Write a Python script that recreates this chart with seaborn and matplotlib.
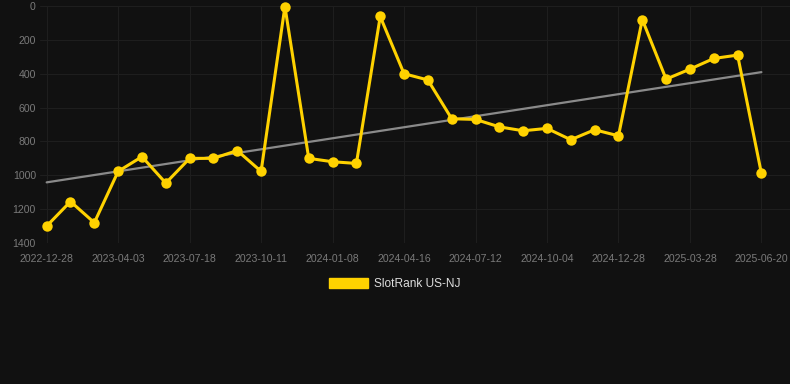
import matplotlib
matplotlib.use("Agg")
import matplotlib.pyplot as plt
from matplotlib.patches import Patch
import numpy as np
import pandas as pd
import seaborn as sns

# rank values (lower = better, axis is inverted)
rank = [1300, 1155, 1280, 977, 890, 1046, 900, 900, 854, 977,
        3, 900, 920, 930, 62, 400, 437, 666, 670, 714,
        737, 723, 790, 731, 767, 80, 432, 373, 310, 290, 989]
tick_labels = ["2022-12-28", "2023-04-03", "2023-07-18", "2023-10-11",
               "2024-01-08", "2024-04-16", "2024-07-12", "2024-10-04",
               "2024-12-28", "2025-03-28", "2025-06-20"]
y_ticks = [0, 200, 400, 600, 800, 1000, 1200, 1400]
series_name = "SlotRank US-NJ"

bg = "#111111"
yellow = "#FFD200"

df = pd.DataFrame({"idx": np.arange(len(rank)), "rank": rank})

sns.set_style("dark")
plt.rcParams["font.family"] = ["Liberation Sans", "DejaVu Sans"]

fig = plt.figure(figsize=(7.9, 3.84), dpi=100, facecolor=bg)
ax = fig.add_axes([40 / 790, 1 - 243 / 384, 750 / 790, 237 / 384])
ax.set_facecolor(bg)

# linear trend
sns.regplot(data=df, x="idx", y="rank", ax=ax, scatter=False, ci=None,
            truncate=True, line_kws={"color": "#8a8a8a", "lw": 1.6, "zorder": 2})

sns.lineplot(data=df, x="idx", y="rank", ax=ax, color=yellow, lw=2.2,
             marker="o", markersize=7.5, markeredgewidth=0, zorder=3,
             clip_on=False)

ax.set_ylim(1400, 0)
ax.set_xlim(-0.28, 31.2)
ax.set_yticks(y_ticks)
ax.set_xticks(np.arange(0, len(rank), 3))
ax.set_xticklabels(tick_labels)
ax.tick_params(axis="both", length=0, labelsize=7.6, colors="#7a7a7a")
ax.tick_params(axis="x", pad=8)
ax.tick_params(axis="y", pad=3)
ax.set_xlabel("")
ax.set_ylabel("")
ax.grid(True, color="#1e1e1e", lw=0.8)
for s in ax.spines.values():
    s.set_visible(False)

handle = Patch(facecolor=yellow, edgecolor=yellow)
fig.legend([handle], [series_name], loc="center", bbox_to_anchor=(395 / 790, 1 - 284 / 384),
           frameon=False, fontsize=8.6, labelcolor="#dddddd",
           handlelength=3.3, handleheight=0.9, handletextpad=0.5)

fig.savefig("out.png", dpi=100, facecolor=bg)
